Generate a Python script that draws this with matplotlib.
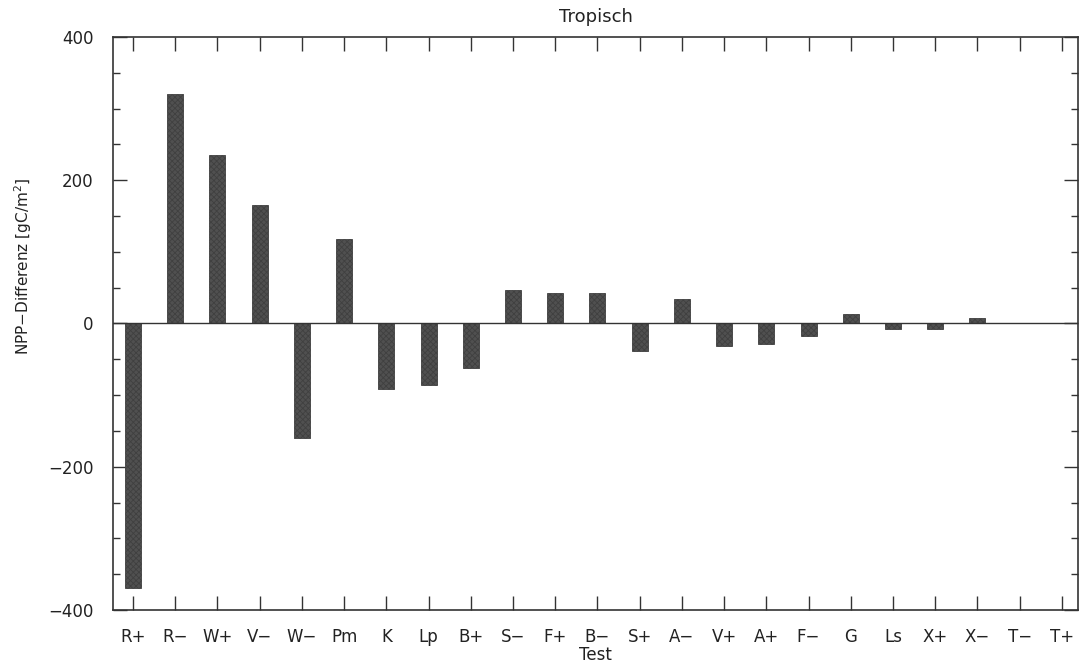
import matplotlib
matplotlib.use("Agg")
import matplotlib.pyplot as plt
from matplotlib.ticker import MultipleLocator

categories = ["R+", "R−", "W+", "V−", "W−", "Pm", "K", "Lp", "B+", "S−", "F+", "B−",
              "S+", "A−", "V+", "A+", "F−", "G", "Ls", "X+", "X−", "T−", "T+"]
values = [-370, 320, 235, 166, -160, 118, -92, -86, -62, 47, 42, 42,
          -38, 34, -32, -28, -18, 13, -8, -8, 7, 1, 1]

plt.rcParams['font.family'] = ['DejaVu Sans']
plt.rcParams['hatch.color'] = '#808080'
plt.rcParams['hatch.linewidth'] = 0.6
fig = plt.figure(figsize=(10.8, 6.67), dpi=100)
ax = fig.add_axes([0.1046, 0.0855, 0.8935, 0.859])

x = list(range(len(categories)))
ax.bar(x, values, width=0.38, color='#505050', edgecolor='#404040', linewidth=0.6,
       hatch='xxxxxx', zorder=2)
ax.axhline(0, color='#333333', linewidth=1.0, zorder=3)

ax.set_xlim(-0.474, 22.38)
ax.set_ylim(-400, 400)
ax.set_xticks(x)
ax.set_xticklabels(categories, fontsize=12)
ax.yaxis.set_minor_locator(MultipleLocator(50))
ax.set_yticks([-400, -200, 0, 200, 400])
ax.set_yticklabels(["−400", "−200", "0", "200", "400"], fontsize=12)

ax.tick_params(axis='x', which='major', direction='in', length=10, width=1.0,
               top=True, bottom=True, pad=13, colors='#333333', labelcolor='#222222')
ax.tick_params(axis='y', which='major', direction='in', length=10, width=1.0,
               left=True, right=True, pad=14, colors='#333333', labelcolor='#222222')
ax.tick_params(axis='y', which='minor', direction='in', length=5, width=1.0,
               left=True, right=True, colors='#333333')
for s in ax.spines.values():
    s.set_linewidth(1.2)
    s.set_color('#333333')

ax.set_title("Tropisch", fontsize=13, pad=11, color='#222222')
ax.set_xlabel("Test", fontsize=12, labelpad=0, color='#222222')
ax.set_ylabel("NPP−Differenz [gC/m$^2$]", fontsize=11, color='#222222')
ax.yaxis.set_label_coords(-0.082, 0.60)

fig.savefig("out.png", dpi=100)
